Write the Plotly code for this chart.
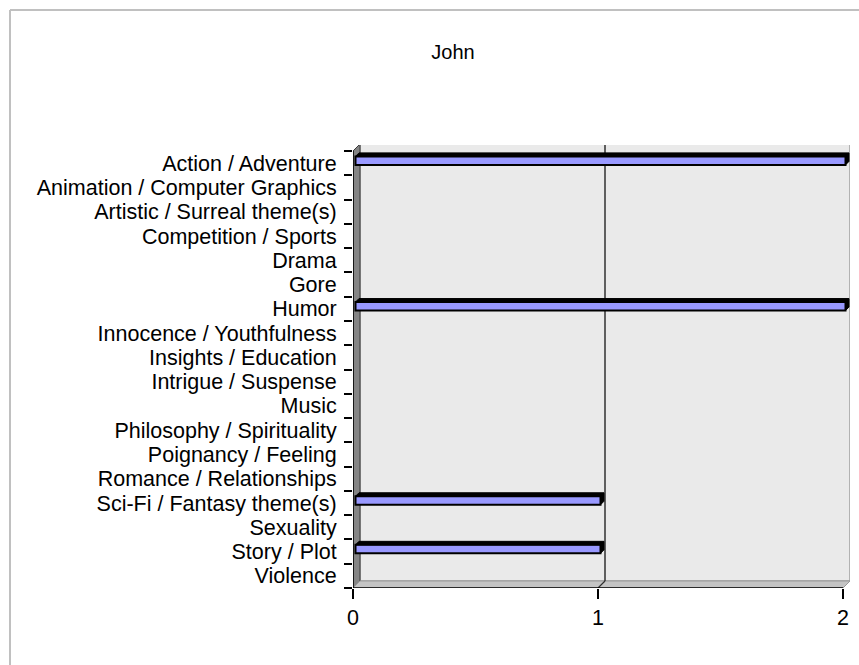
import plotly.graph_objects as go

# ---- data -------------------------------------------------------------
chart_title = "John"
categories = [
    "Action / Adventure",
    "Animation / Computer Graphics",
    "Artistic / Surreal theme(s)",
    "Competition / Sports",
    "Drama",
    "Gore",
    "Humor",
    "Innocence / Youthfulness",
    "Insights / Education",
    "Intrigue / Suspense",
    "Music",
    "Philosophy / Spirituality",
    "Poignancy / Feeling",
    "Romance / Relationships",
    "Sci-Fi / Fantasy theme(s)",
    "Sexuality",
    "Story / Plot",
    "Violence",
]
values = [2, 0, 0, 0, 0, 0, 2, 0, 0, 0, 0, 0, 0, 0, 1, 0, 1, 0]
value_ticks = [0, 1, 2]

# ---- geometry (pixels) -------------------------------------------------
W, H = 859, 665
PL, PR, PT, PB = 353, 850, 145, 588      # plot area (front axes + back wall)
FRONT_TOP = 151                           # top of the front category plane
UNIT_PX = 245.0                           # pixels per value unit
DEPTH_PX = 7                              # 3-D depth of the walls
BAR_FRONT_PX, BAR_BACK_PX = 2.5, 6.0      # depth of bar front / back faces

n = len(categories)
cat_px = (PB - FRONT_TOP) / n
x_max = (PR - PL) / UNIT_PX
y_top = -0.5 - (FRONT_TOP - PT) / cat_px
vmax = value_ticks[-1]

dx, dy = DEPTH_PX / UNIT_PX, DEPTH_PX / cat_px
fx, fy = BAR_FRONT_PX / UNIT_PX, BAR_FRONT_PX / cat_px
bx, by = BAR_BACK_PX / UNIT_PX, BAR_BACK_PX / cat_px
bar_h = 0.35

y_first, y_last = -0.5, n - 0.5


def px_to_paper_x(px):
    return (px - PL) / (PR - PL)


def px_to_paper_y(py):
    return (PB - py) / (PB - PT)


shapes = []

# back wall
shapes.append(dict(type="rect", xref="x", yref="y", layer="below",
                   x0=dx, x1=vmax + dx, y0=y_first - dy, y1=y_last - dy,
                   fillcolor="#EAEAEA", line=dict(color="#A0A0A0", width=1.5)))
# left side wall
shapes.append(dict(type="path", xref="x", yref="y", layer="below",
                   path=f"M 0,{y_first} L {dx},{y_first - dy} L {dx},{y_last - dy} L 0,{y_last} Z",
                   fillcolor="#858585", line=dict(color="#3A3A3A", width=1)))
# floor
shapes.append(dict(type="path", xref="x", yref="y", layer="below",
                   path=f"M 0,{y_last} L {dx},{y_last - dy} L {vmax + dx},{y_last - dy} L {vmax},{y_last} Z",
                   fillcolor="#C4C4C4", line=dict(color="#9A9A9A", width=1)))
# value gridlines on the back wall and floor
for t in value_ticks[1:-1]:
    shapes.append(dict(type="line", xref="x", yref="y", layer="below",
                       x0=t + dx, x1=t + dx, y0=y_first - dy, y1=y_last - dy,
                       line=dict(color="#303030", width=1.5)))
    shapes.append(dict(type="line", xref="x", yref="y", layer="below",
                       x0=t, x1=t + dx, y0=y_last, y1=y_last - dy,
                       line=dict(color="#303030", width=1.2)))

# 3-D top and end faces of the bars
for i, v in enumerate(values):
    if v <= 0:
        continue
    top_f = i - bar_h / 2 - fy
    bot_f = i + bar_h / 2 - fy
    top_b = i - bar_h / 2 - by
    bot_b = i + bar_h / 2 - by
    shapes.append(dict(type="path", xref="x", yref="y", layer="above",
                       path=(f"M {fx},{top_f} L {bx},{top_b} L {v + bx},{top_b} "
                             f"L {v + bx},{bot_b} L {v + fx},{bot_f} L {v + fx},{top_f} Z"),
                       fillcolor="#000000", line=dict(color="#000000", width=1)))

# front axis lines
shapes.append(dict(type="line", xref="x", yref="y", layer="above",
                   x0=0, x1=0, y0=y_first, y1=y_last,
                   line=dict(color="#000000", width=1.5)))
shapes.append(dict(type="line", xref="x", yref="y", layer="above",
                   x0=0, x1=vmax, y0=y_last, y1=y_last,
                   line=dict(color="#000000", width=1.5)))

# chart-area border (top and left edges)
shapes.append(dict(type="line", xref="paper", yref="paper", layer="above",
                   x0=px_to_paper_x(10), x1=px_to_paper_x(W + 5),
                   y0=px_to_paper_y(10), y1=px_to_paper_y(10),
                   line=dict(color="#C0C0C0", width=2)))
shapes.append(dict(type="line", xref="paper", yref="paper", layer="above",
                   x0=px_to_paper_x(10), x1=px_to_paper_x(10),
                   y0=px_to_paper_y(10), y1=px_to_paper_y(H + 5),
                   line=dict(color="#C0C0C0", width=2)))

bar = go.Bar(
    y=[i - fy for i in range(n)],
    x=values,
    base=fx,
    orientation="h",
    width=bar_h,
    marker=dict(color="#9999FF",
                line=dict(color="#000000", width=[2 if v > 0 else 0 for v in values])),
    hoverinfo="skip",
)

font_family = "Liberation Sans, Arial, sans-serif"

fig = go.Figure(bar)
fig.update_layout(
    width=W, height=H,
    margin=dict(l=PL, r=W - PR, t=PT, b=H - PB, pad=0),
    paper_bgcolor="#FFFFFF",
    plot_bgcolor="rgba(0,0,0,0)",
    showlegend=False,
    font=dict(family=font_family, size=21.5, color="#000000"),
    title=dict(text=chart_title, x=453 / W, xref="container", xanchor="center",
               y=1 - 52 / H, yref="container", yanchor="middle",
               font=dict(family=font_family, size=20, color="#000000")),
    shapes=shapes,
    xaxis=dict(range=[0, x_max], tickmode="array", tickvals=value_ticks,
               ticktext=[str(t) for t in value_ticks],
               ticks="outside", ticklen=10, tickwidth=1.5, tickcolor="#000000",
               showgrid=False, zeroline=False, showline=False,
               automargin=False, fixedrange=True),
    yaxis=dict(range=[y_last, y_top], tickmode="array", tickvals=list(range(n)),
               ticktext=categories,
               ticks="outside", ticklen=11, tickcolor="rgba(0,0,0,0)",
               minor=dict(tickmode="array", tickvals=[k - 0.5 for k in range(n + 1)],
                          ticks="outside", ticklen=8, tickwidth=1.5, tickcolor="#000000",
                          showgrid=False),
               showgrid=False, zeroline=False, showline=False,
               automargin=False, fixedrange=True),
)

fig.write_html("out.html")
